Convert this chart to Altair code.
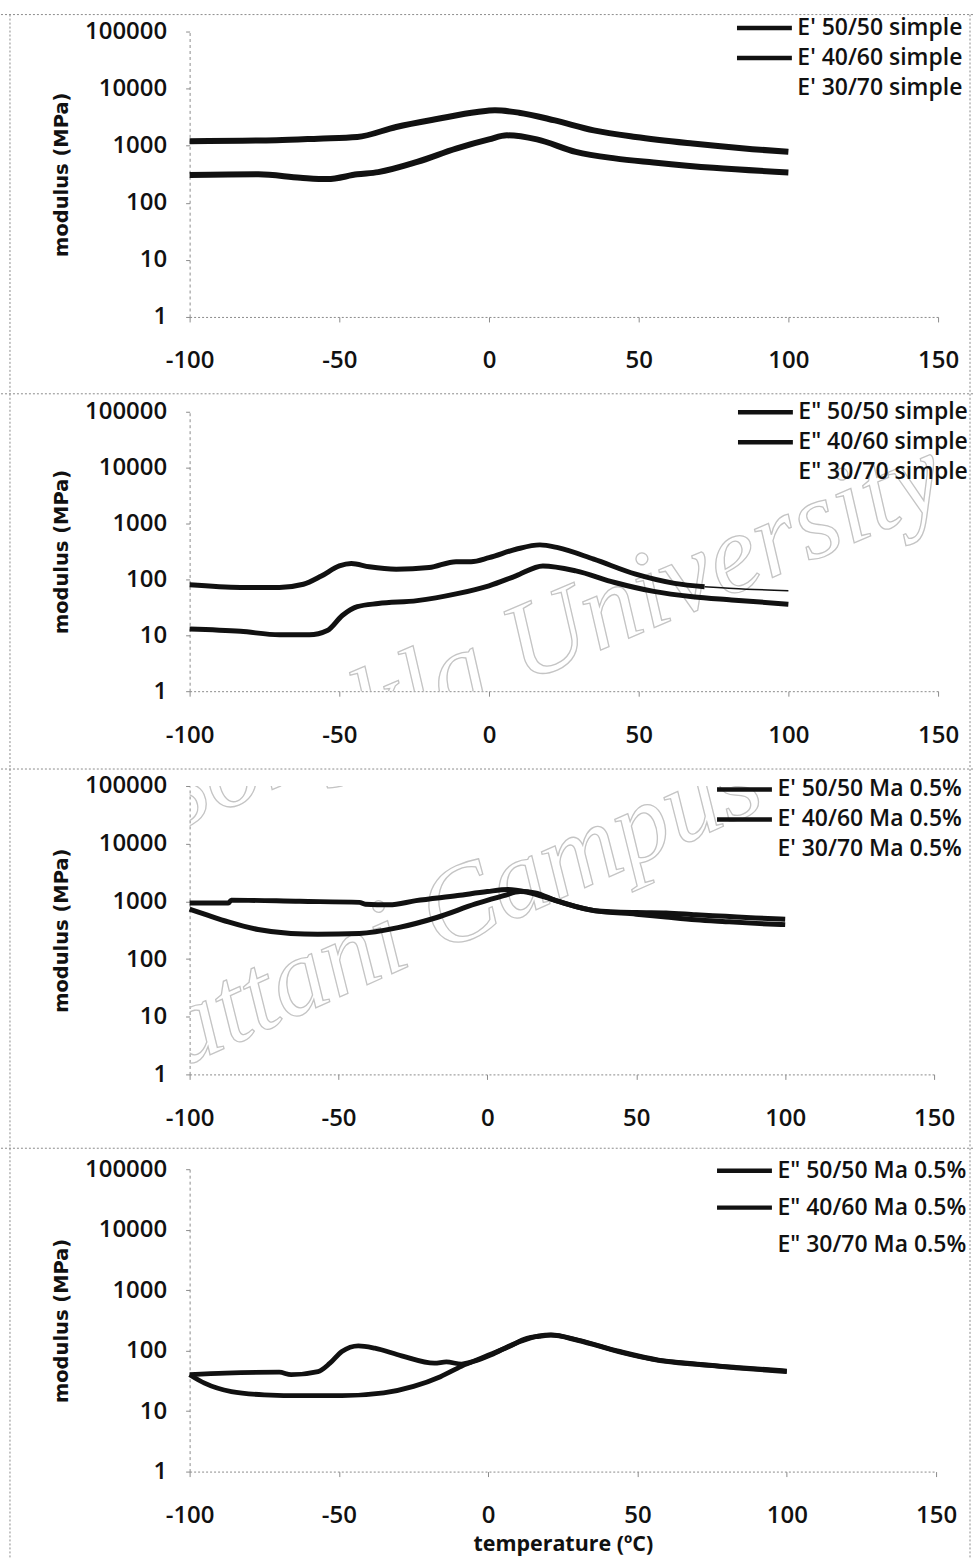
import altair as alt
import pandas as pd

# ---- storage modulus E', simple blends ----
p1_a_t = [-100, -71, -57, -44, -31, -17, -4, 2, 10, 22, 35, 49, 68, 88, 100]
p1_a_v = [1200, 1250, 1330, 1420, 2130, 2960, 3880, 4160, 3790, 2770, 1860, 1420, 1090, 870, 780]
p1_b_t = [-100, -77, -63, -54, -44, -37, -24, -11, 0, 6, 16, 29, 42, 55, 75, 100]
p1_b_v = [306, 315, 275, 260, 315, 345, 520, 890, 1290, 1520, 1290, 780, 600, 510, 410, 340]
p1_labels = ["E' 50/50 simple", "E' 40/60 simple", "E' 30/70 simple"]

# ---- loss modulus E", simple blends ----
p2_a_t = [-100, -83, -70, -62, -56, -50, -46, -40, -31, -20, -11, -6, 0, 9, 17, 23, 35, 49, 62, 72]
p2_a_v = [80, 72, 72, 82, 115, 174, 192, 168, 152, 163, 208, 208, 245, 346, 415, 370, 230, 124, 85, 74]
p2_tail_t = [72, 86, 100]
p2_tail_v = [74, 67, 63]
p2_b_t = [-100, -83, -70, -60, -54, -49, -44, -37, -24, -11, 0, 9, 18, 29, 42, 55, 68, 81, 100]
p2_b_v = [13, 11.8, 10.2, 10.2, 12.2, 22.6, 32.5, 37, 41.7, 55, 77, 116, 174, 142, 88, 61, 49, 43, 36]
p2_labels = ['E" 50/50 simple', 'E" 40/60 simple', 'E" 30/70 simple']

# ---- storage modulus E', Ma 0.5% ----
p3_a_t = [-100, -87, -86, -63, -43, -41, -33, -24, -10, 0, 7, 13.5, 23, 36, 50, 60, 70, 80, 90, 100]
p3_a_v = [935, 935, 1050, 1000, 960, 890, 870, 1030, 1260, 1480, 1600, 1440, 1030, 690, 640, 630, 585, 550, 515, 490]
p3_b_t = [-100, -95, -87, -77, -66, -57, -43, -30, -17, -4, 5.5, 11, 16, 23, 36, 50, 60, 70, 80, 90, 100]
p3_b_v = [730, 600, 440, 325, 277, 268, 277, 350, 525, 900, 1260, 1480, 1400, 1030, 690, 600, 535, 480, 445, 415, 395]
p3_labels = ["E' 50/50 Ma 0.5%", "E' 40/60 Ma 0.5%", "E' 30/70 Ma 0.5%"]

# ---- loss modulus E", Ma 0.5% ----
p4_a_t = [-100, -88, -70, -66, -57, -53, -49, -43.5, -38, -29, -18, -14, -9, -5, 1, 8, 17, 21, 30, 44, 57, 70, 83, 100]
p4_a_v = [40, 42.5, 44, 40, 45, 62, 97, 120, 110, 82, 62, 65, 60, 66, 85, 125, 175, 182, 150, 97, 70, 60, 53, 46]
p4_b_t = [-100, -95, -86, -75, -62, -49, -35, -25, -16, -9, -1, 7, 13, 17, 21, 30, 44, 57, 70, 83, 100]
p4_b_v = [40, 29, 21, 18.6, 18, 18, 20, 25.6, 37, 55, 80, 117, 160, 172, 180, 148, 95, 69, 59, 52, 45]
p4_labels = ['E" 50/50 Ma 0.5%', 'E" 40/60 Ma 0.5%', 'E" 30/70 Ma 0.5%']

x_ticks = [-100, -50, 0, 50, 100, 150]
y_ticks = [1, 10, 100, 1000, 10000, 100000]

FONT = "Open Sans"
INK = "#111111"
EDGE = "#8c8c8c"
# legend key: a 55 px stroke that ends where the label begins
KEY_PATH = "M-4.5,0H1"
one = pd.DataFrame({"k": [0]})


def frame(t_a, v_a, t_b, v_b, labels):
    rows = [{"T": t, "E": v, "series": labels[0]} for t, v in zip(t_a, v_a)]
    rows += [{"T": t, "E": v, "series": labels[1]} for t, v in zip(t_b, v_b)]
    return pd.DataFrame(rows)


def hrule(y, x0, x1):
    return alt.Chart(one).mark_rule(color=EDGE, strokeDash=[2, 2], strokeWidth=1).encode(
        x=alt.value(x0), x2=alt.value(x1), y=alt.value(y))


def vrule(x, y0, y1):
    return alt.Chart(one).mark_rule(color=EDGE, strokeDash=[2, 2], strokeWidth=1).encode(
        x=alt.value(x), y=alt.value(y0), y2=alt.value(y1))


def watermark(text, x, y, angle, size=112):
    return alt.Chart(one).mark_text(
        clip=True, font="Liberation Serif", fontStyle="italic", fontSize=size,
        angle=angle, align="center", baseline="middle",
        fill="#ffffff", fillOpacity=0, stroke="#c4c4c4", strokeWidth=1.3,
    ).encode(x=alt.value(x), y=alt.value(y), text=alt.value(text))


def panel(df, labels, width, height, lx, ly, row_pad, stroke_w, frame_marks, extras_under=(),
          extras_over=(), x_title=None):
    x_axis = alt.Axis(
        values=x_ticks, labelExpr="'' + datum.value", labelFont=FONT, labelFontSize=24,
        labelFontWeight=600, labelColor=INK, labelPadding=27, tickSize=5, tickColor=EDGE,
        domainColor=EDGE, domainDash=[2, 2], grid=False, labelFlush=False,
        title=x_title, titleFont=FONT, titleFontSize=21.5, titleFontWeight="bold",
        titleColor=INK, titlePadding=6,
    )
    y_axis = alt.Axis(
        values=y_ticks, format="d", labelFont=FONT, labelFontSize=24, labelFontWeight=600,
        labelColor=INK, labelPadding=19, tickSize=4, tickColor=EDGE, domainColor=EDGE,
        domainDash=[3, 3], grid=False, labelFlush=False,
        title="modulus (MPa)", titleFont="DejaVu Sans", titleFontSize=19.5,
        titleFontWeight="bold", titleColor=INK, titlePadding=13,
    )
    lines = alt.Chart(df).mark_line(strokeWidth=stroke_w, interpolate="monotone").encode(
        x=alt.X("T:Q", scale=alt.Scale(domain=[-100, 150], nice=False), axis=x_axis),
        y=alt.Y("E:Q", scale=alt.Scale(type="log", domain=[1, 100000], nice=False), axis=y_axis),
        color=alt.Color(
            "series:N",
            scale=alt.Scale(domain=labels, range=[INK, INK, "rgba(0,0,0,0)"]),
            legend=alt.Legend(
                title=None, orient="none", legendX=lx, legendY=ly, padding=0,
                symbolType=KEY_PATH, symbolSize=400, symbolStrokeWidth=4.5,
                labelFont=FONT, labelFontSize=23, labelFontWeight=600, labelColor=INK,
                labelOffset=3, rowPadding=row_pad, labelLimit=400,
            ),
        ),
        detail="series:N",
    )
    layers = list(frame_marks) + list(extras_under) + [lines] + list(extras_over)
    return alt.layer(*layers).properties(width=width, height=height)


df1 = frame(p1_a_t, p1_a_v, p1_b_t, p1_b_v, p1_labels)
df2 = frame(p2_a_t, p2_a_v, p2_b_t, p2_b_v, p2_labels)
df3 = frame(p3_a_t, p3_a_v, p3_b_t, p3_b_v, p3_labels)
df4 = frame(p4_a_t, p4_a_v, p4_b_t, p4_b_v, p4_labels)

tail = alt.Chart(pd.DataFrame({"T": p2_tail_t, "E": p2_tail_v})).mark_line(
    color=INK, strokeWidth=1.5, interpolate="monotone").encode(x="T:Q", y="E:Q")

c1 = panel(df1, p1_labels, 750, 286, 581, -16, 5, 6,
           [hrule(-17, -189, 785), hrule(363, -189, 785), vrule(-180, -17, 363), vrule(782, -17, 363)])
c2 = panel(df2, p2_labels, 750, 280, 582, -12, 5, 5,
           [hrule(358, -189, 785), vrule(-180, -18, 358), vrule(782, -18, 358)],
           extras_under=[watermark("Prince of Songkla University", 153, 312, 337)],
           extras_over=[tail])
c3 = panel(df3, p3_labels, 746, 289, 561, -9, 5, 5,
           [hrule(363, -189, 785), vrule(-180, -17, 363), vrule(782, -17, 363)],
           extras_under=[watermark("Prince of Songkla University", 153, -63, 337),
                         watermark("Pattani Campus", 241, 135, 336, 110)])
c4 = panel(df4, p4_labels, 748, 303, 561, -11, 12, 4.8,
           [vrule(-180, -21, 390), vrule(782, -21, 390)],
           x_title="temperature (ºC)")

chart = alt.vconcat(c1, c2, c3, c4, spacing=95, bounds="flush").resolve_scale(
    color="independent"
).configure_view(stroke=None).properties(
    padding={"left": 0, "top": 12, "right": 0, "bottom": 0}
)

chart.save("out.html", embed_options={"renderer": "svg", "actions": False})
